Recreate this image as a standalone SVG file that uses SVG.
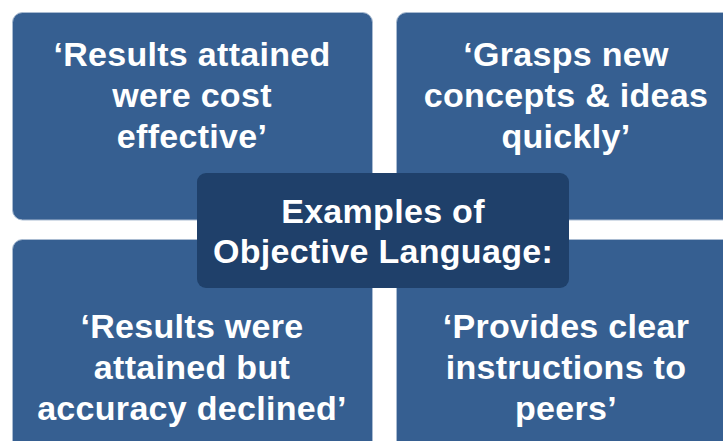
<svg xmlns="http://www.w3.org/2000/svg" width="723" height="441" viewBox="0 0 723 441">
<style>
.box{fill:#365f91;stroke:#a9bbd1;stroke-width:1}
.center{fill:#1f406a}
.t{font-family:"Liberation Sans",Arial,sans-serif;font-weight:bold;font-size:34px;letter-spacing:0.3px;fill:#ffffff;text-anchor:middle}
</style>
<rect width="723" height="441" fill="#ffffff"/>
<g id="node-tl">
<rect class="box" x="12.5" y="12.5" width="360" height="207.5" rx="10"/>
<text class="t" x="192" y="66">‘Results attained</text>
<text class="t" x="192" y="107">were cost</text>
<text class="t" x="192" y="148">effective’</text>
</g>
<g id="node-tr">
<rect class="box" x="396.5" y="12.5" width="340" height="207.5" rx="10"/>
<text class="t" x="566" y="66">‘Grasps new</text>
<text class="t" x="566" y="107">concepts &amp; ideas</text>
<text class="t" x="566" y="148">quickly’</text>
</g>
<g id="node-bl">
<rect class="box" x="12.5" y="239.5" width="360" height="215" rx="10"/>
<text class="t" x="192" y="338">‘Results were</text>
<text class="t" x="192" y="379">attained but</text>
<text class="t" x="192" y="420">accuracy declined’</text>
</g>
<g id="node-br">
<rect class="box" x="396.5" y="239.5" width="340" height="215" rx="10"/>
<text class="t" x="566" y="338">‘Provides clear</text>
<text class="t" x="566" y="379">instructions to</text>
<text class="t" x="566" y="420">peers’</text>
</g>
<g id="node-center">
<rect class="center" x="197" y="173" width="372" height="115" rx="9"/>
<text class="t" x="383" y="223">Examples of</text>
<text class="t" x="383" y="263">Objective Language:</text>
</g>
<g id="connectors"></g>
</svg>
